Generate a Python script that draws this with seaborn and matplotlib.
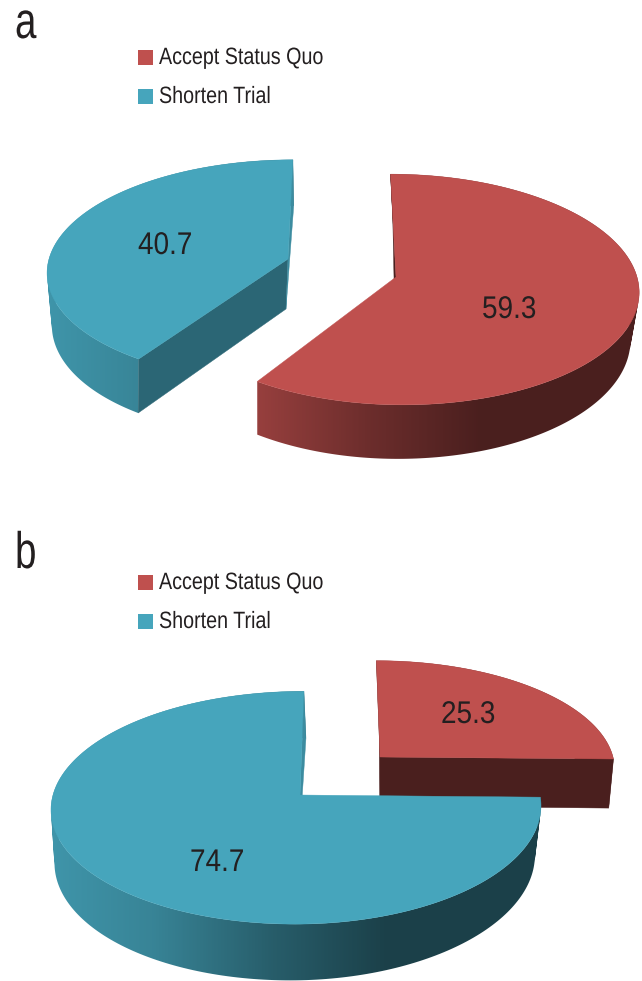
import numpy as np
import matplotlib
matplotlib.use("Agg")
import matplotlib.pyplot as plt
from matplotlib.colors import to_rgb
from matplotlib.patches import Polygon, Rectangle
from matplotlib.path import Path
from matplotlib.patheffects import AbstractPathEffect
from matplotlib.transforms import Affine2D
import seaborn as sns

# Share of participants choosing each option, per experiment
categories = ["Accept Status Quo", "Shorten Trial"]
values_a = [59.3, 40.7]
values_b = [25.3, 74.7]
panel_names = ["a", "b"]

palette = {"Accept Status Quo": "#bf504e", "Shorten Trial": "#46a5bc"}
INK = "#231f20"

sns.set_theme(style="white")
plt.rcParams["font.family"] = ["Liberation Sans", "DejaVu Sans"]

fig = plt.figure(figsize=(6.42, 9.81), dpi=100)
ax = fig.add_axes([0, 0, 1, 1])
ax.axis("off")

VANISH_X = 340.0
PERSPECTIVE = 0.00095

# Side-wall brightness across the width of a slice, lit from the left
SHADE_F = [0.90, 0.80, 0.56, 0.39, 0.39]
SHADE_X = [-1.0, -0.6, -0.1, 0.35, 1.0]


class Condensed(AbstractPathEffect):
    """Squeeze glyph outlines horizontally, for a condensed typeface look."""

    def __init__(self, factor):
        super().__init__()
        self.factor = factor

    def draw_path(self, renderer, gc, tpath, affine, rgbFace=None):
        squeezed = tpath.transformed(Affine2D().scale(self.factor, 1.0))
        renderer.draw_path(gc, squeezed, affine, rgbFace)


def label(x, y, text, size, factor):
    t = ax.text(x, y, text, fontsize=size, color=INK, ha="left", va="baseline", zorder=20)
    t.set_path_effects([Condensed(factor)])
    return t


def rim(theta, apex, rx_left, rx_right, ry):
    """Project a polar position on the top face of a slice to the page."""
    depth = ry * np.cos(theta)
    s = 1.0 / (1.0 + PERSPECTIVE * depth)
    sin = np.sin(theta)
    across = np.where(sin < 0, rx_left, rx_right) * sin
    x = VANISH_X + ((apex[0] - VANISH_X) + across) * s
    y = apex[1] - depth * s
    return x, y


def lower(x, y, apex, thick, apex_dx, slant):
    """Matching point on the bottom face of a slice."""
    dxp = x - apex[0]
    dyp = apex[1] - y
    dx = apex_dx + 0.03 * dyp - slant * dxp
    dy = thick * (1.0 - 0.0008 * dyp)
    return x + dx, y + dy


def wall_path(x, y, xb, yb):
    """Union of the wall's quads, all wound the same way so overlaps stay filled."""
    quads = []
    for i in range(len(x) - 1):
        q = np.array([(x[i], y[i]), (x[i + 1], y[i + 1]), (xb[i + 1], yb[i + 1]),
                      (xb[i], yb[i]), (x[i], y[i])])
        area = np.sum(q[:-1, 0] * q[1:, 1] - q[1:, 0] * q[:-1, 1])
        quads.append(Path(q if area > 0 else q[::-1], closed=True))
    return Path.make_compound_path(*quads)


def draw_slice(start, stop, color, apex, rx_left, rx_right, ry, thick, apex_dx, slant,
               start_face, stop_face, z):
    theta = np.linspace(start, stop, 240)
    x, y = rim(theta, apex, rx_left, rx_right, ry)
    xb, yb = lower(x, y, apex, thick, apex_dx, slant)
    base = np.array(to_rgb(color))

    # Curved wall, graded from lit to shaded
    rx = max(rx_left, rx_right)
    ramp = np.array(sns.blend_palette([base * f for f in SHADE_F], n_colors=257))
    grid = np.linspace(-1.3, 1.3, 520)
    idx = np.interp(grid, SHADE_X, [0, 64, 128, 192, 256]).astype(int)
    left, right = apex[0] - 1.3 * rx, apex[0] + 1.3 * rx
    img = ax.imshow(ramp[idx][np.newaxis, :, :], extent=(left, right, 1200, -200),
                    aspect="auto", interpolation="bilinear", zorder=z)
    img.set_clip_path(wall_path(x, y, xb, yb), transform=ax.transData)

    # Flat faces where the slice was cut out of the pie; the ones turned away are skipped
    apex_low = lower(apex[0], apex[1], apex, thick, apex_dx, slant)
    for i, face in ((0, start_face), (-1, stop_face)):
        if face is None:
            continue
        corners = [apex, (x[i], y[i]), (xb[i], yb[i]), apex_low]
        ax.add_patch(Polygon(corners, closed=True, fc=base * face, ec=base * face,
                             lw=0.3, zorder=z + 0.1))

    # Top face
    top = np.column_stack([np.r_[apex[0], x], np.r_[apex[1], y]])
    ax.add_patch(Polygon(top, closed=True, fc=color, ec=color, lw=0.3, zorder=z + 0.2))


def draw_legend(y_first):
    for k, name in enumerate(categories):
        y = y_first + 39 * k
        ax.add_patch(Rectangle((138, y), 15, 15, fc=palette[name], ec="none", zorder=10))
        label(159, y + 14, name, 17, 0.835)


# Panel a: the two slices pulled apart sideways
red_a, blue_a = np.cumsum(values_a) / sum(values_a) * 2 * np.pi
draw_slice(red_a, blue_a, palette["Shorten Trial"], (288, 259), 239, 239, 109.5, 50, -2, 0.03,
           0.62, 0.85, 1)
draw_slice(0, red_a, palette["Accept Status Quo"], (396, 277), 238, 241, 114, 49, -1, 0.03,
           0.39, None, 2)
label(138, 254, f"{values_a[1]:.1f}", 22.6, 0.89)
label(482, 318, f"{values_a[0]:.1f}", 22.6, 0.89)

# Panel b: the small slice sits behind the large one
red_b, blue_b = np.cumsum(values_b) / sum(values_b) * 2 * np.pi
draw_slice(0, red_b, palette["Accept Status Quo"], (380, 757), 233, 233, 106, 49, 0, 0.02,
           0.39, 0.39, 3)
draw_slice(red_b, blue_b, palette["Shorten Trial"], (300, 795), 247, 240, 115, 51, -1, 0.02,
           None, 0.85, 4)
label(441, 723, f"{values_b[0]:.1f}", 22.6, 0.89)
label(190, 871, f"{values_b[1]:.1f}", 22.6, 0.89)

draw_legend(50)
draw_legend(575)

label(15, 38, panel_names[0], 37, 0.75)
label(15, 568, panel_names[1], 37, 0.75)

ax.set_xlim(0, 642)
ax.set_ylim(981, 0)

fig.savefig("out.png", dpi=100, facecolor="white")
